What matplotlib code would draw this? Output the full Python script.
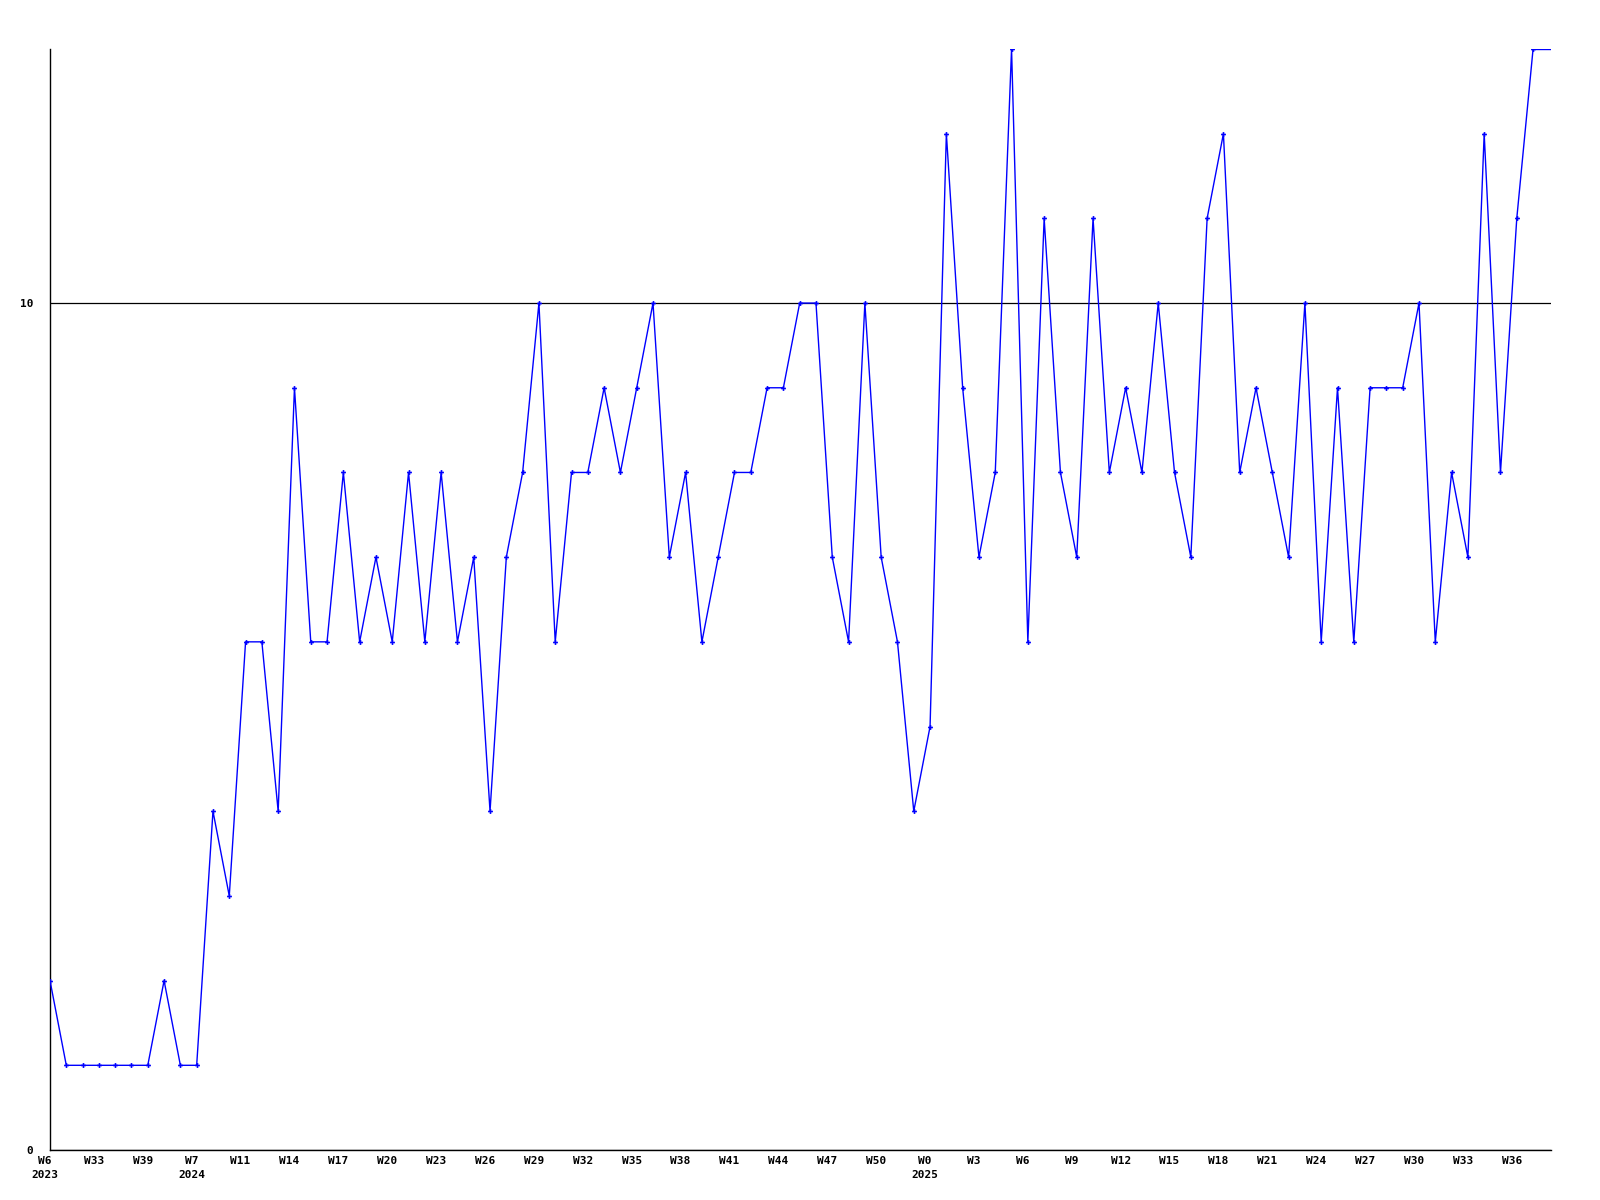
import matplotlib
matplotlib.use("Agg")
import matplotlib.pyplot as plt
import matplotlib.transforms as mtransforms

# weekly counts, one point per week
values = [2, 1, 1, 1, 1, 1, 1, 2, 1, 1,
          4, 3, 6, 6, 4, 9, 6, 6, 8, 6,
          7, 6, 8, 6, 8, 6, 7, 4, 7, 8,
          10, 6, 8, 8, 9, 8, 9, 10, 7, 8,
          6, 7, 8, 8, 9, 9, 10, 10, 7, 6,
          10, 7, 6, 4, 5, 12, 9, 7, 8, 13,
          6, 11, 8, 7, 11, 8, 9, 8, 10, 8,
          7, 11, 12, 8, 9, 8, 7, 10, 6, 9,
          6, 9, 9, 9, 10, 6, 8, 7, 12, 8,
          11, 13]

week_labels = ["W6", "W33", "W39", "W7", "W11", "W14", "W17", "W20", "W23", "W26",
               "W29", "W32", "W35", "W38", "W41", "W44", "W47", "W50", "W0", "W3",
               "W6", "W9", "W12", "W15", "W18", "W21", "W24", "W27", "W30", "W33",
               "W36"]
year_labels = {0: "2023", 3: "2024", 18: "2025"}

x = list(range(len(values)))
tick_pos = x[::3][:len(week_labels)]

fig = plt.figure(figsize=(16, 12), dpi=100)
ax = fig.add_axes([50 / 1600, 50 / 1200, 1501 / 1600, 1101 / 1200])

xmax = 92.1
ax.plot(x, values, color="#0000ff", lw=1.0, marker="P", ms=3.5, mew=0, zorder=3)
ax.plot([x[-1], xmax], [values[-1], values[-1]], color="#0000ff", lw=1.0, zorder=3)

ax.set_xlim(0, xmax)
ax.set_ylim(0, 13)

for s in ["top", "right"]:
    ax.spines[s].set_visible(False)
for s in ["left", "bottom"]:
    ax.spines[s].set_color("black")
    ax.spines[s].set_linewidth(1.0)

ax.set_yticks([0, 10])
ax.set_yticklabels(["0", "10"])
ax.yaxis.grid(True, color="black", lw=0.9)
ax.set_axisbelow(True)

labels = []
for i, w in enumerate(week_labels):
    if i in year_labels:
        labels.append(w + "\n" + year_labels[i])
    else:
        labels.append(w)
ax.set_xticks(tick_pos)
ax.set_xticklabels(labels, linespacing=1.6)

font = dict(family="DejaVu Sans Mono", weight="bold", size=8)
for t in ax.get_xticklabels() + ax.get_yticklabels():
    t.set_fontproperties(font)
ax.tick_params(axis="x", length=0, pad=4)
ax.tick_params(axis="y", length=0, pad=12)

shift = mtransforms.ScaledTranslation(-5 / 100, 0, fig.dpi_scale_trans)
for t in ax.get_xticklabels():
    t.set_transform(t.get_transform() + shift)

fig.savefig("out.png", dpi=100, facecolor="white")
